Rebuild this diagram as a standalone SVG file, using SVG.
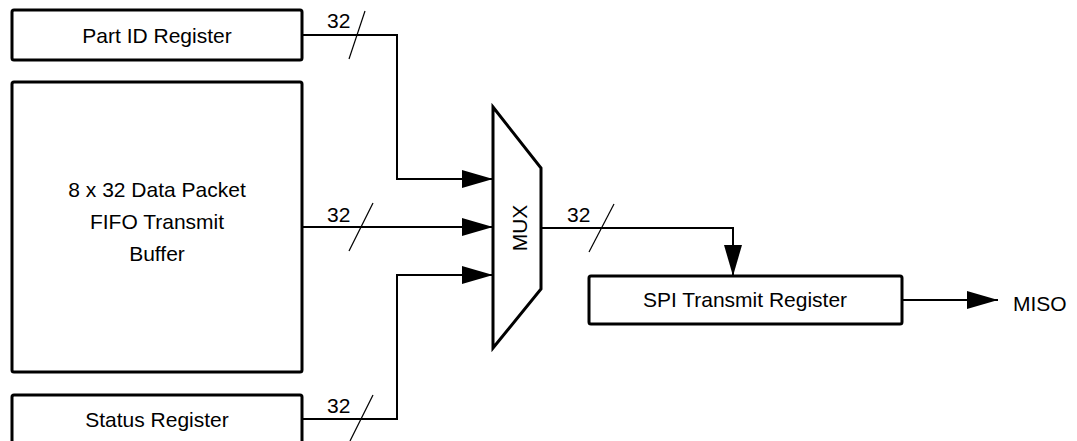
<svg xmlns="http://www.w3.org/2000/svg" width="1077" height="441" viewBox="0 0 1077 441">
<style>
.box{fill:#fff;stroke:#000;stroke-width:3}
.t{font-family:"Liberation Sans",Arial,sans-serif;font-size:21px;fill:#000}
.m{text-anchor:middle}
.w{fill:none;stroke:#000;stroke-width:2}
.s{stroke:#000;stroke-width:1.2;fill:none}
</style>
<defs>
<marker id="ah" markerUnits="userSpaceOnUse" markerWidth="32" markerHeight="20" refX="31" refY="9" orient="auto" viewBox="0 0 32 20">
<path d="M0,0 L31,9 L0,18 z" fill="#000"/>
</marker>
</defs>
<rect width="1077" height="441" fill="#fff"/>
<g id="part-id">
<rect class="box" x="12" y="10" width="290" height="50" rx="2"/>
<text class="t m" x="157" y="43">Part ID Register</text>
</g>
<g id="fifo">
<rect class="box" x="12" y="82" width="290" height="290" rx="2"/>
<text class="t m" x="157" y="197">8 x 32 Data Packet</text>
<text class="t m" x="157" y="229">FIFO Transmit</text>
<text class="t m" x="157" y="261">Buffer</text>
</g>
<g id="status">
<rect class="box" x="12" y="395" width="290" height="60" rx="2"/>
<text class="t m" x="157" y="427">Status Register</text>
</g>
<g id="mux">
<polygon class="box" points="493,107 541,168 541,289 493,348"/>
<text class="t m" transform="translate(527,228) rotate(-90)">MUX</text>
</g>
<g id="spi">
<rect class="box" x="589" y="276" width="313" height="48" rx="2"/>
<text class="t m" x="745" y="307">SPI Transmit Register</text>
</g>
<g id="miso">
<text class="t" x="1013" y="311">MISO</text>
</g>
<g id="connectors">
<path class="w" d="M302,35 H397 V179 H493" marker-end="url(#ah)"/>
<path class="w" d="M302,227 H493" marker-end="url(#ah)"/>
<path class="w" d="M302,419 H397 V275 H493" marker-end="url(#ah)"/>
<path class="w" d="M541,228 H733 V276" marker-end="url(#ah)"/>
<path class="w" d="M902,300 H998" marker-end="url(#ah)"/>
<line class="s" x1="349" y1="59" x2="365" y2="11"/>
<line class="s" x1="349" y1="251" x2="373" y2="203"/>
<line class="s" x1="589" y1="252" x2="614" y2="204"/>
<line class="s" x1="350" y1="441" x2="373" y2="395"/>
<text class="t" x="327" y="28">32</text>
<text class="t" x="327" y="222">32</text>
<text class="t" x="567" y="222">32</text>
<text class="t" x="327" y="413">32</text>
</g>
</svg>
